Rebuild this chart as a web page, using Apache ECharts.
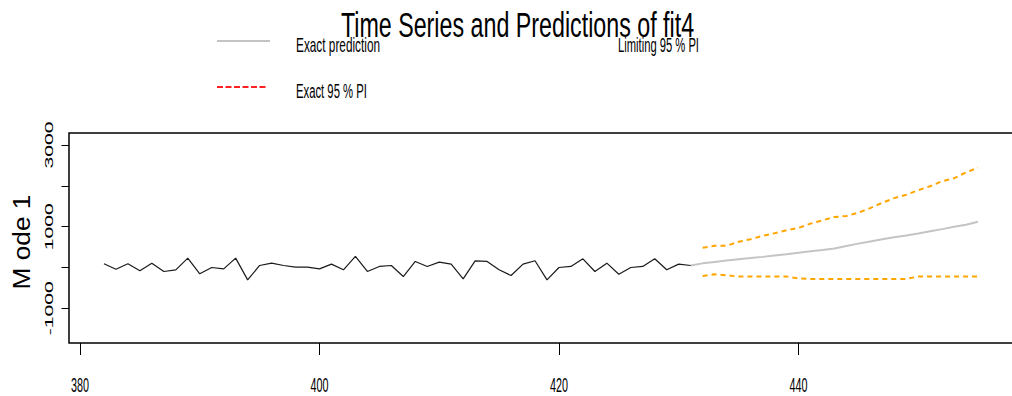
<!DOCTYPE html>
<html><head><meta charset="utf-8">
<script src="https://cdn.jsdelivr.net/npm/echarts@6/dist/echarts.min.js"></script>
<style>html,body{margin:0;padding:0;background:#fff}#c{width:1012px;height:396px}</style>
</head><body><div id="c"></div>
<script>
// ---- data ----
const obsTime = [382,383,384,385,386,387,388,389,390,391,392,393,394,395,396,397,398,399,400,401,402,403,404,405,406,407,408,409,410,411,412,413,414,415,416,417,418,419,420,421,422,423,424,425,426,427,428,429,430,431];
const obsValues = [91,-42,91,-81,106,-98,-57,229,-155,0,-33,229,-303,49,106,49,8,8,-33,82,-57,270,-98,25,49,-221,148,25,131,82,-279,164,148,-57,-197,82,164,-303,0,25,213,-98,106,-164,0,25,213,-57,82,49];
const predTime = [432,433,434,435,436,437,438,439,440,441,442,443,444,445,446,447,448,449,450,451,452,453,454,455];
const predValues = [101,137,172,202,230,260,294,326,363,395,430,467,524,585,639,690,742,784,834,889,940,997,1047,1120];
const upperPI = [484,531,531,629,693,774,840,912,970,1074,1155,1237,1261,1342,1456,1585,1699,1781,1894,1991,2113,2187,2331,2445];
const lowerPI = [-206,-166,-190,-223,-223,-223,-223,-223,-265,-279,-279,-279,-279,-279,-279,-279,-279,-279,-223,-223,-223,-223,-223,-223];
const xTicks = [380,400,420,440];
const xTickLabels = ['380','400','420','440'];
const yTicks = [-1000,0,1000,2000,3000];
const yTickLabelValues = [-1000,1000,3000];
const titleText = 'Time Series and Predictions of fit4';
const yName = 'M ode 1';
const legendNames = ['Exact prediction','Limiting 95 % PI','Exact 95 % PI'];

const FONT = '"Liberation Sans", Arial, sans-serif';
const CAP = 0.716;
const mctx = document.createElement('canvas').getContext('2d');
function measure(text, size){ mctx.font = size + 'px ' + FONT; return mctx.measureText(text).width; }
function txt(text, x, y, cap, w, align, rot, sx){
  const size = cap / CAP;
  const scale = sx != null ? sx : w / measure(text, size);
  return {type:'text', x:x, y:y, rotation: rot || 0, scaleX: scale, scaleY: 1, silent:true, z:100,
    style:{text:text, fontSize:size, fontFamily:FONT, fill:'#000', align:align, verticalAlign:'middle',
      textAlign:align, textVerticalAlign:'middle'}};
}

const chart = echarts.init(document.getElementById('c'), null, {renderer:'svg'});
const pair = (ts, vs) => ts.map((t,i)=>[t, vs[i]]);
chart.setOption({
  animation:false,
  backgroundColor:'#fff',
  grid:{left:69, top:133, width:944, height:210, show:true, borderColor:'#000', borderWidth:1.5,
    backgroundColor:'transparent', outerBoundsMode:'none', containLabel:false},
  xAxis:{type:'value', min:379.08, max:457.92, splitLine:{show:false},
    axisLine:{show:false, onZero:false},
    axisTick:{show:true, length:12, customValues:xTicks, lineStyle:{color:'#000', width:1}},
    axisLabel:{show:false}},
  yAxis:{type:'value', min:-1850, max:3295, splitLine:{show:false},
    axisLine:{show:false, onZero:false},
    axisTick:{show:true, length:7.5, customValues:yTicks, lineStyle:{color:'#000', width:1}},
    axisLabel:{show:false}},
  series:[
    {type:'line', name:'upper', data:pair(predTime, upperPI), symbol:'none', silent:true,
      lineStyle:{color:'#FFA500', width:2, type:[5,4]}, z:2},
    {type:'line', name:'lower', data:pair(predTime, lowerPI), symbol:'none', silent:true,
      lineStyle:{color:'#FFA500', width:2, type:[5,4]}, z:2},
    {type:'line', name:'pred', data:[[obsTime[obsTime.length-1], obsValues[obsValues.length-1]]].concat(pair(predTime, predValues)),
      symbol:'none', silent:true, lineStyle:{color:'#c4c4c4', width:2}, z:3},
    {type:'line', name:'obs', data:pair(obsTime, obsValues), symbol:'none', silent:true,
      lineStyle:{color:'#1a1a1a', width:1.2}, z:4}
  ]
});

const g = [];
// legend samples
g.push({type:'line', shape:{x1:217,y1:41,x2:270,y2:41}, style:{stroke:'#c4c4c4', lineWidth:2}, z:50, silent:true});
g.push({type:'line', shape:{x1:217,y1:87,x2:266,y2:87}, style:{stroke:'#ff2020', lineWidth:2, lineDash:[6,2.5]}, z:50, silent:true});
// title and legend texts
g.push(txt(titleText, 517.5, 25, 25, 353, 'center'));
g.push(txt(legendNames[0], 296, 45, 15, 84, 'left'));
g.push(txt(legendNames[1], 618, 45, 15, 81, 'left'));
g.push(txt(legendNames[2], 296, 91, 14, 71, 'left'));
// x tick labels
const xs = (15/CAP);
const xScale = 18 / measure('380', xs);
xTicks.forEach((v,i)=>{
  const p = chart.convertToPixel({gridIndex:0}, [v, 0]);
  g.push(txt(xTickLabels[i], p[0], 385, 15, null, 'center', 0, xScale));
});
// y tick labels (rotated)
const ys = 8.3 / CAP;
const yScale = 47 / measure('3000', ys);
yTickLabelValues.forEach(v=>{
  const p = chart.convertToPixel({gridIndex:0}, [380, v]);
  g.push(txt(String(v), 49.3, p[1], 8.3, null, 'center', Math.PI/2, yScale));
});
// y axis name
g.push(txt(yName, 21.5, 242, 17.4, 95, 'center', Math.PI/2));
chart.setOption({graphic:g});
</script></body></html>
